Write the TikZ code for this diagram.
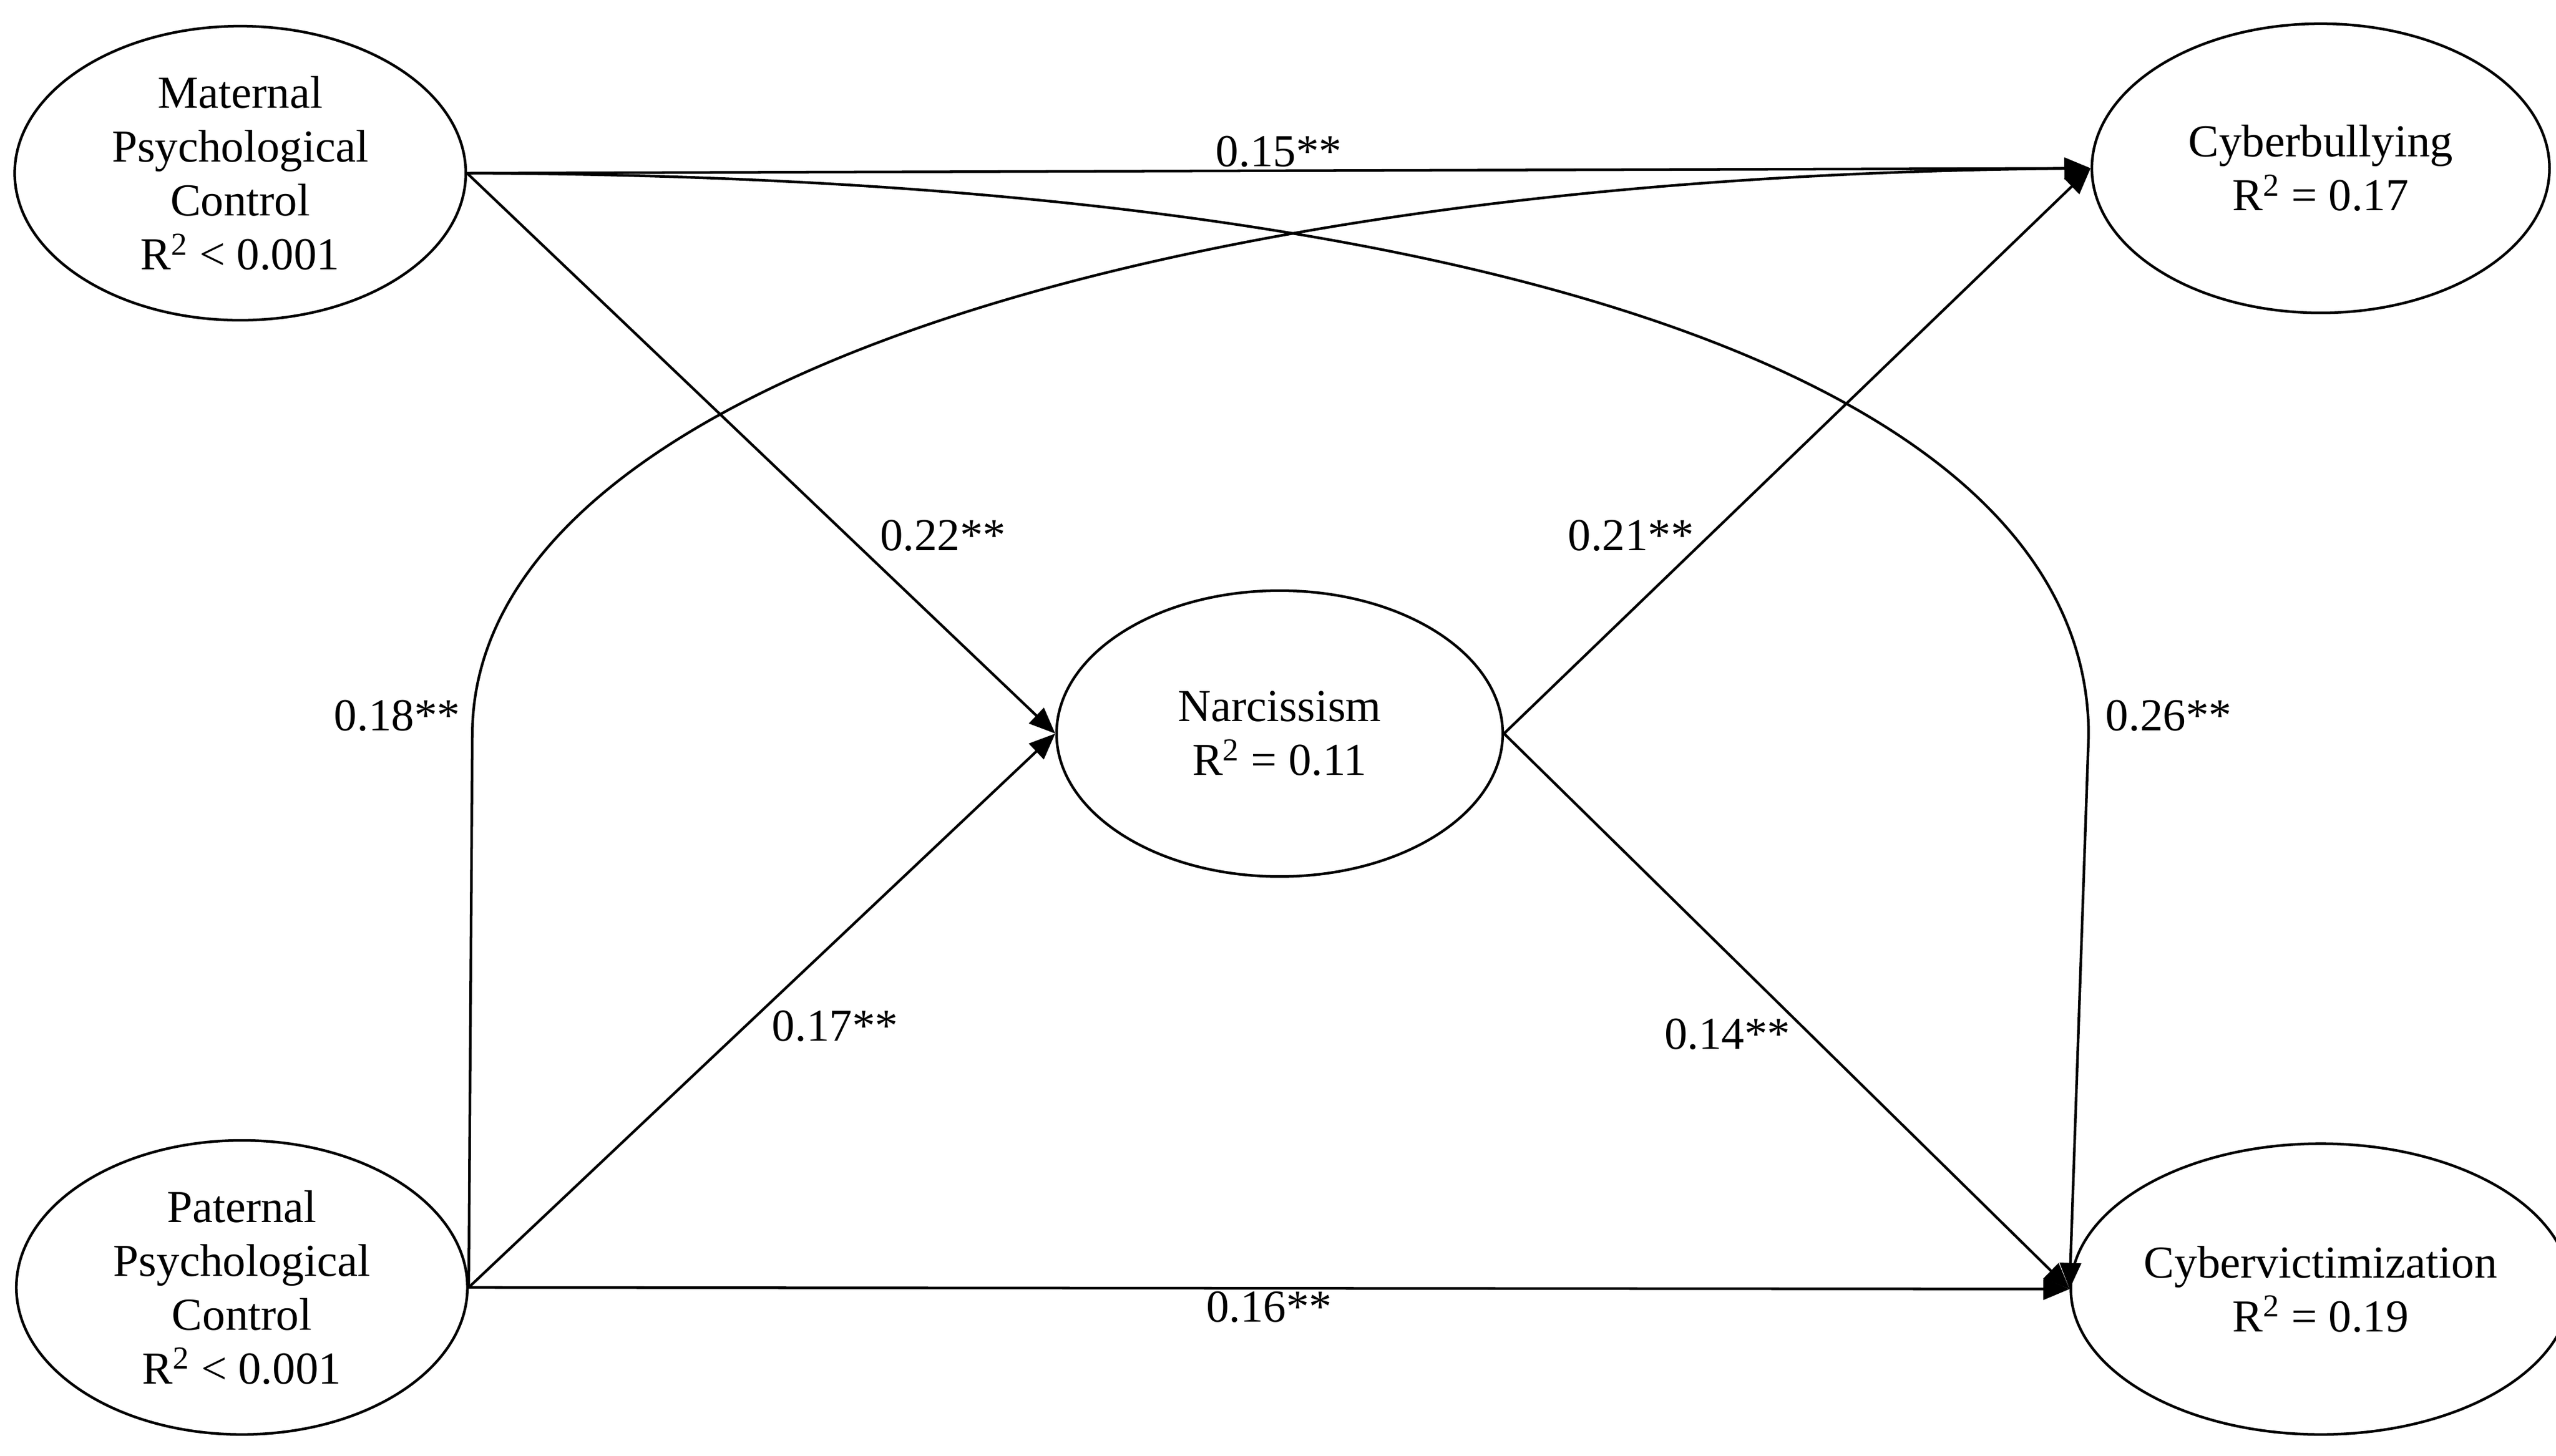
\documentclass[tikz,border=0pt]{standalone}
\usepackage{fontspec}
\setmainfont{Liberation Serif}
\usetikzlibrary{arrows.meta,shapes.geometric}
\begin{document}
\begin{tikzpicture}[x=1pt,y=-1pt,
  var/.style={draw,line width=1.6pt,ellipse,minimum width=#1,inner sep=0pt},
  var/.default=276pt,
  lbl/.style={font=\fontsize{28}{32}\selectfont},
  path/.style={line width=1.6pt,-{Triangle[length=16pt,width=13pt]}},
  every node/.style={font=\fontsize{28}{33}\selectfont,align=center}]
\useasboundingbox (0,0) rectangle (1564,891);
\node[var,minimum height=180pt] (mat) at (147,106) {Maternal\\Psychological\\Control\\R\textsuperscript{2} < 0.001};
\node[var,minimum height=180pt] (pat) at (148,788) {Paternal\\Psychological\\Control\\R\textsuperscript{2} < 0.001};
\node[var=280pt,minimum height=177pt] (cb) at (1420,103) {Cyberbullying\\R\textsuperscript{2} = 0.17};
\node[var=280pt,minimum height=178pt] (cv) at (1420,789) {Cybervictimization\\R\textsuperscript{2} = 0.19};
\node[var=273pt,minimum height=175pt] (nar) at (783,449) {Narcissism\\R\textsuperscript{2} = 0.11};
\coordinate (a) at (1278,450);
\coordinate (b) at (289,450);
\draw[path] (mat.east) -- node[lbl,above,yshift=-2pt]{0.15**} (cb.west);
\draw[path] (pat.east) -- node[lbl,below,yshift=2pt]{0.16**} (cv.west);
\draw[path] (mat.east) .. controls (900,108) and (1278,230) .. (a) -- (cv.west);
\draw[path] (pat.east) -- (b) .. controls (289,240) and (700,108) .. (cb.west);
\draw[path] (mat.east) -- (nar.west);
\draw[path] (pat.east) -- (nar.west);
\draw[path] (nar.east) -- (cb.west);
\draw[path] (nar.east) -- (cv.west);
\node[lbl] (l1) at (577,328) {0.22**};
\node[lbl] (l2) at (511,628) {0.17**};
\node[lbl] (l3) at (998,328) {0.21**};
\node[lbl] (l4) at (1057,633) {0.14**};
\node[lbl] (l5) at (243,438) {0.18**};
\node[lbl] (l6) at (1327,438) {0.26**};
\end{tikzpicture}
\end{document}
